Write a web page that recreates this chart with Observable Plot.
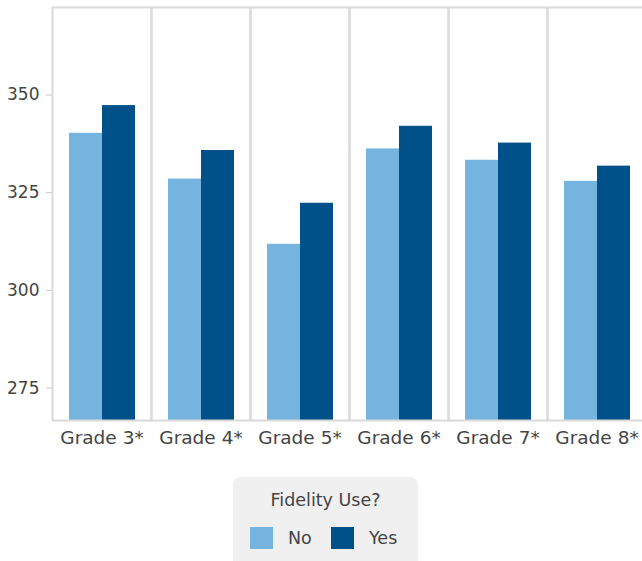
<!DOCTYPE html>
<html>
<head>
<meta charset="utf-8">
<script src="https://cdn.jsdelivr.net/npm/d3@7"></script>
<script src="https://cdn.jsdelivr.net/npm/@observablehq/plot@0.6"></script>
<style>
  html, body { margin: 0; padding: 0; background: #fff; overflow: hidden; width: 642px; height: 561px; }
  #wrap { position: relative; width: 647px; font-family: "DejaVu Sans", sans-serif; }
  #chart svg { display: block; }
  #chart svg g[aria-label="y-axis tick"] path,
  #chart svg g[aria-label="y-axis"] line { stroke: #c8c8c8; stroke-opacity: 1; }
  #chart svg g[aria-label="fx-axis tick label"] text,
  #chart svg g[aria-label="fx-axis"] text { font-size: 18.5px; }
  #legend {
    position: absolute; left: 233px; top: 477px; width: 185px; height: 100px;
    background: #f0f0f0; border-radius: 7px; color: #444; font-size: 17.5px;
  }
  #legend .title { position: absolute; top: 13px; left: 0; width: 100%; text-align: center; }
  #legend .item { position: absolute; top: 50px; display: flex; align-items: center; }
  #legend .sw { width: 23px; height: 22px; display: inline-block; margin-right: 15px; }
</style>
</head>
<body>
<div id="wrap">
  <div id="chart"></div>
  <div id="legend"></div>
</div>
<script>
const grades = ["Grade 3*", "Grade 4*", "Grade 5*", "Grade 6*", "Grade 7*", "Grade 8*"];
const groups = ["No", "Yes"];
const noValues = [340.2, 328.5, 311.8, 336.2, 333.3, 327.9];
const yesValues = [347.3, 335.8, 322.3, 342.0, 337.7, 331.8];
const yTicks = [275, 300, 325, 350];
const colors = ["#74b4de", "#005189"];
const legendTitle = "Fidelity Use?";

const yDomain = [266.7, 372.4];

const data = [];
grades.forEach((g, i) => {
  data.push({grade: g, use: "No", value: noValues[i]});
  data.push({grade: g, use: "Yes", value: yesValues[i]});
});

const chart = Plot.plot({
  width: 647,
  height: 455,
  marginLeft: 50,
  marginRight: 0,
  marginTop: 7,
  marginBottom: 35,
  style: {fontFamily: "DejaVu Sans, sans-serif", fontSize: "17px", color: "#444", background: "#fff"},
  fx: {domain: grades, padding: 0, axis: "bottom", tickSize: 0, tickPadding: 10, label: null},
  x: {domain: groups, axis: null, paddingInner: 0, paddingOuter: 0.5},
  y: {domain: yDomain, ticks: yTicks, tickSize: 6, tickPadding: 7, label: null, grid: false},
  color: {domain: groups, range: colors},
  marks: [
    Plot.barY(data, {fx: "grade", x: "use", y1: () => yDomain[0], y2: "value", fill: "use", inset: 0, insetLeft: 0, insetRight: 0}),
    Plot.frame({stroke: "#dadada", strokeWidth: 2})
  ]
});
document.getElementById("chart").appendChild(chart);

const legend = document.getElementById("legend");
const t = document.createElement("div");
t.className = "title";
t.textContent = legendTitle;
legend.appendChild(t);
const lefts = [17, 98];
groups.forEach((g, i) => {
  const it = document.createElement("div");
  it.className = "item";
  it.style.left = lefts[i] + "px";
  const sw = document.createElement("span");
  sw.className = "sw";
  sw.style.background = colors[i];
  const lb = document.createElement("span");
  lb.textContent = g;
  it.appendChild(sw);
  it.appendChild(lb);
  legend.appendChild(it);
});
</script>
</body>
</html>
